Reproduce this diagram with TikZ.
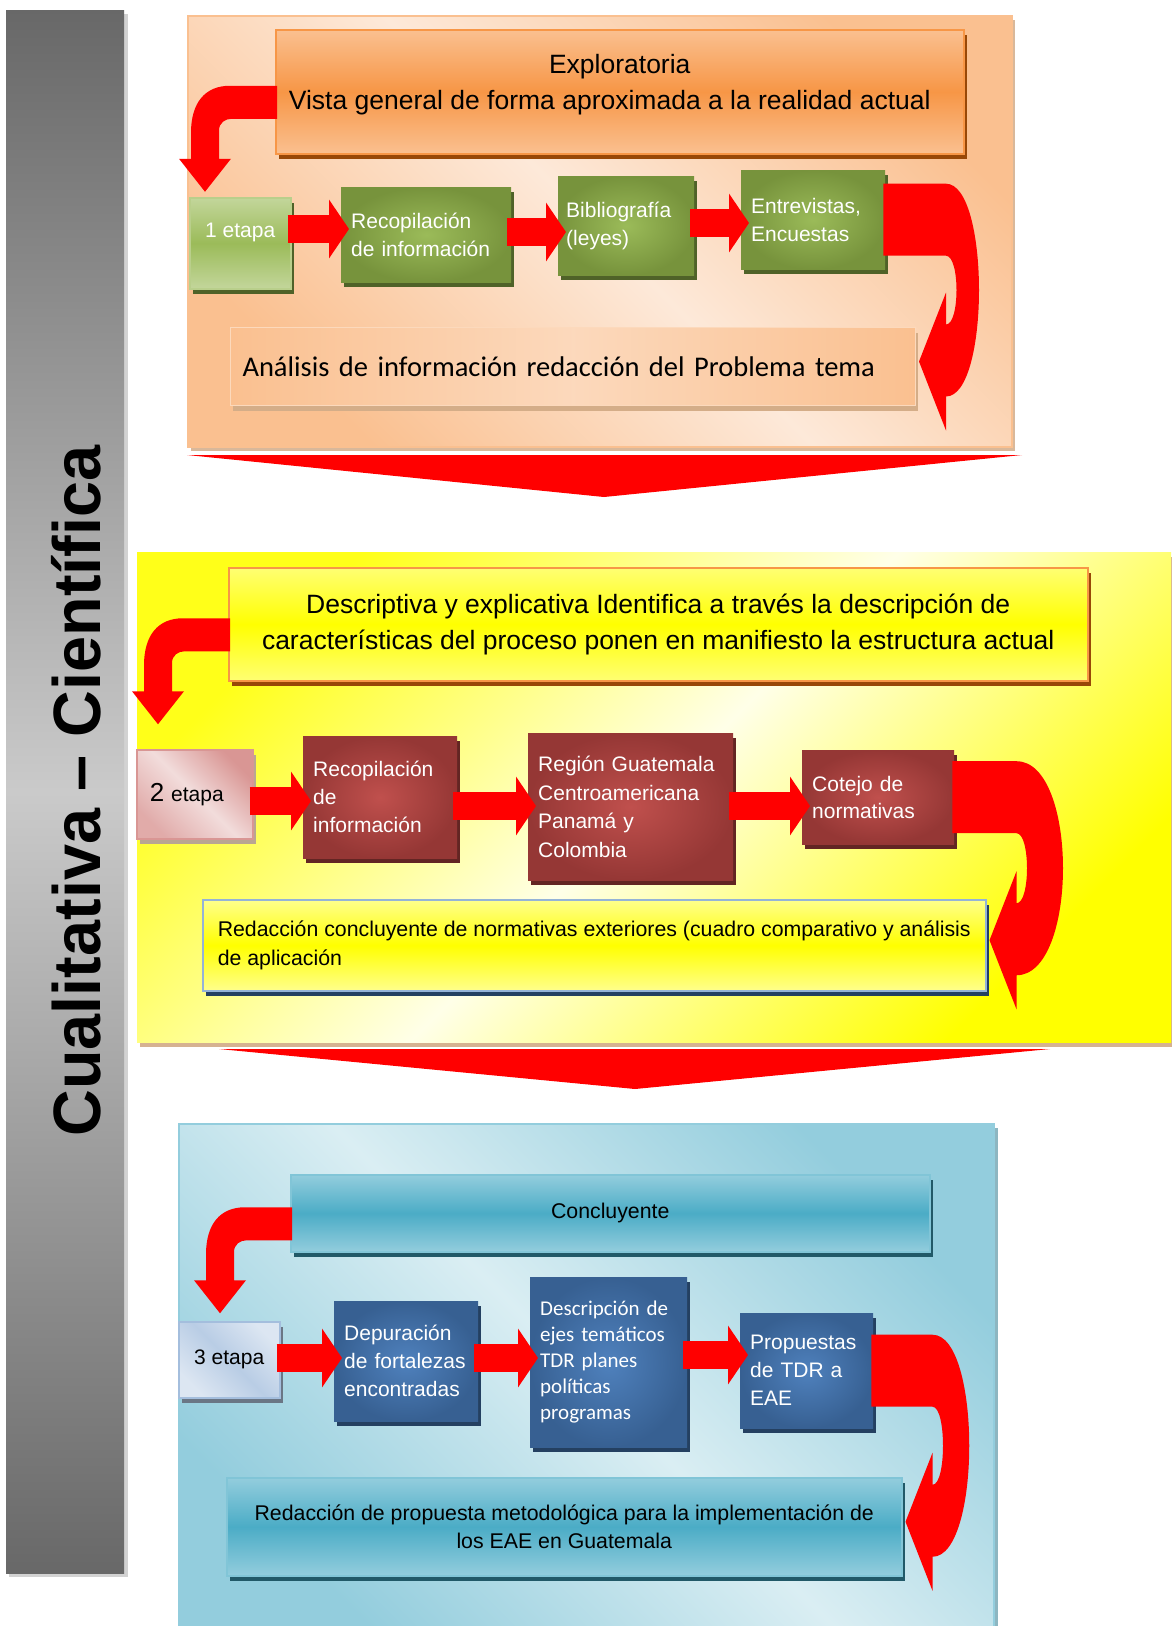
\documentclass[tikz,border=0pt]{standalone}
\usepackage{fontspec}
\setmainfont{Liberation Sans}
\newfontfamily\calibri{Carlito}
\usepackage{graphicx}
\usepackage{tikz}
\usetikzlibrary{positioning, calc, shadows, arrows.meta}

\definecolor{rojo}{RGB}{255,0,0}
\definecolor{naranja}{RGB}{247,150,70}
\definecolor{naranjaclaro}{RGB}{250,192,144}
\definecolor{melocoton}{RGB}{253,233,217}
\definecolor{cafe}{RGB}{152,72,7}
\definecolor{sombranar}{RGB}{217,184,154}
\definecolor{verde}{RGB}{119,147,60}
\definecolor{verdeclaro}{RGB}{155,187,89}
\definecolor{verdepalido}{RGB}{195,214,155}
\definecolor{verdeoscuro}{RGB}{79,98,40}
\definecolor{vino}{RGB}{149,55,53}
\definecolor{vinoclaro}{RGB}{192,80,77}
\definecolor{vinooscuro}{RGB}{99,37,35}
\definecolor{rosa}{RGB}{217,150,148}
\definecolor{rosaclaro}{RGB}{242,220,219}
\definecolor{azul}{RGB}{55,96,146}
\definecolor{azulclaro}{RGB}{79,129,189}
\definecolor{azuloscuro}{RGB}{36,64,97}
\definecolor{celeste}{RGB}{185,205,229}
\definecolor{celesteclaro}{RGB}{220,230,242}
\definecolor{turquesa}{RGB}{75,172,198}
\definecolor{turquesaclaro}{RGB}{147,205,221}
\definecolor{turquesapalido}{RGB}{218,238,243}
\definecolor{turquesaoscuro}{RGB}{33,89,104}
\definecolor{amarillo}{RGB}{255,255,0}
\definecolor{crema}{RGB}{255,255,232}
\definecolor{gris}{RGB}{104,104,104}
\definecolor{grisclaro}{RGB}{202,202,202}

\newcommand{\curva}[1]{%
  \fill[rojo, shift={(#1.west)}] (2,-6) -- (-45,-6) .. controls (-70,-6) and (-84,11) .. (-84,41) -- (-84,67) -- (-96,67) -- (-70,100) -- (-44,67) -- (-56,67) -- (-56,39) .. controls (-56,31) and (-50,27) .. (-43,27) -- (2,27) -- cycle;}

\newcommand{\vuelta}[3]{%
  \fill[rojo] let \p1=(#1.east), \p2=(#2.east) in
    (\x1-2pt,\y1+36pt) -- (\x2+30pt,\y1+36pt)
    .. controls (\x2+#3pt,\y1+36pt) and (\x2+#3pt,\y2-30pt) .. (\x2+30pt,\y2-30pt)
    -- (\x2+30pt,\y2-64pt) -- (\x2+3pt,\y2+5pt) -- (\x2+30pt,\y2+74pt) -- (\x2+30pt,\y2+42pt)
    .. controls (\x2+44pt,\y2+42pt) and (\x2+44pt,\y1-36pt) .. (\x2+30pt,\y1-36pt)
    -- (\x1-2pt,\y1-36pt) -- cycle;}

\begin{document}
\begin{tikzpicture}[x=1pt, y=-1pt,
  sombra/.style={drop shadow={shadow xshift=3pt, shadow yshift=-5pt, opacity=1, fill=#1}},
  panel/.style={anchor=north west, inner sep=0pt},
  caja/.style={anchor=north west, inner xsep=10pt, inner ysep=0pt, align=left, text=white, font=\fontsize{21}{28}\selectfont},
  cverde/.style={caja, inner color=verdeclaro, outer color=verde, sombra=verdeoscuro},
  cvino/.style={caja, inner color=vinoclaro, outer color=vino, sombra=vinooscuro},
  cazul/.style={caja, inner color=azulclaro, outer color=azul, sombra=azuloscuro},
  titulo/.style={anchor=north west, align=center, inner sep=0pt, line width=1.5pt, font=\fontsize{26.5}{36}\selectfont},
  flecha/.style={rojo, line width=28pt, -{Triangle[length=20pt, width=58pt]}, shorten <=-4pt, shorten >=-8pt}]
\useasboundingbox (0,0) rectangle (1171,1626);

\node[panel, top color=naranjaclaro, bottom color=naranjaclaro, middle color=melocoton, shading angle=-45, draw=naranjaclaro, line width=1.5pt, drop shadow={shadow xshift=3pt, shadow yshift=-4pt, opacity=1, fill=sombranar}, minimum width=824pt, minimum height=431pt] (p1) at (187,15) {};
\node[panel, top color=amarillo!90!white, bottom color=amarillo, middle color=crema, shading angle=45, drop shadow={shadow xshift=3pt, shadow yshift=-5pt, opacity=1, fill=sombranar!90!brown}, minimum width=1034pt, minimum height=490pt] (p2) at (137,552) {};
\node[panel, top color=turquesaclaro, bottom color=turquesaclaro, middle color=turquesapalido, shading angle=-45, draw=turquesaclaro, line width=1.5pt, drop shadow={shadow xshift=4pt, shadow yshift=-4pt, opacity=1, fill=turquesaclaro!70!gray}, minimum width=815pt, minimum height=510pt] (p3) at (178,1123) {};

\fill[gray!35] (9,14) rectangle (128,1577);
\shade[top color=gris, bottom color=gris, middle color=grisclaro] (6,10) rectangle (124,1573);
\node[rotate=90, anchor=base, inner sep=0pt, font=\bfseries\fontsize{67}{70}\selectfont] (lema) at (100,791) {\scalebox{0.966}[1]{Cualitativa – Científica}};

\fill[rojo] (187,455) -- (1022,455) -- (604,497) -- cycle;
\fill[rojo] (219,1049) -- (1050,1049) -- (635,1089) -- cycle;

\node[titulo, draw=naranja, top color=naranjaclaro, bottom color=naranjaclaro, middle color=naranja, sombra=cafe, minimum width=688pt, minimum height=124pt] (t1) at (275,29) {Exploratoria\\Vista general de forma aproximada a la realidad actual\hspace*{20pt}\rule[-20pt]{0pt}{1pt}};
\node[titulo, draw=naranja, top color=amarillo!55!white, bottom color=amarillo!55!white, middle color=amarillo, sombra=cafe, minimum width=859pt, minimum height=113pt] (t2) at (228,567) {Descriptiva y explicativa Identifica a través la descripción de\\características del proceso ponen en manifiesto la estructura actual};
\node[titulo, draw=turquesa!70!white, top color=turquesaclaro, bottom color=turquesaclaro, middle color=turquesa, sombra=turquesaoscuro, minimum width=639pt, minimum height=77pt, font=\fontsize{21.3}{28}\selectfont] (t3) at (290,1174) {Concluyente};
\curva{t1}
\curva{t2}
\curva{t3}

\node[anchor=north west, inner xsep=12pt, inner ysep=0pt, text width=661pt, align=left, minimum height=78pt, left color=naranjaclaro, right color=naranjaclaro, middle color=melocoton!60!naranjaclaro, draw=naranjaclaro!60!white, line width=1pt, drop shadow={shadow xshift=2pt, shadow yshift=-5pt, opacity=1, fill=sombranar!80!brown}, font=\calibri\fontsize{28.5}{34}\selectfont] (a1) at (230,327) {Análisis de información redacción del Problema tema};
\node[anchor=north west, inner sep=0pt, align=left, minimum width=783pt, minimum height=91pt, draw=azulclaro!60!white, line width=1.5pt, top color=amarillo!45!white, bottom color=amarillo!45!white, middle color=amarillo, sombra=azuloscuro, font=\fontsize{21.3}{29}\selectfont] (r2c) at (202,899) {Redacción concluyente de normativas exteriores (cuadro comparativo y análisis\\de aplicación};
\node[titulo, draw=turquesa!70!white, top color=turquesaclaro, bottom color=turquesaclaro, middle color=turquesa, sombra=turquesaoscuro, minimum width=675pt, minimum height=98pt, font=\fontsize{21.3}{28}\selectfont] (r3c) at (226,1477) {Redacción de propuesta metodológica para la implementación de\\los EAE en Guatemala};

\node[caja, minimum width=101pt, minimum height=91pt, top color=verdepalido, bottom color=verdepalido, middle color=verdeclaro, draw=verdeclaro!70!white, line width=1.5pt, sombra=verdeoscuro] (s1) at (189,197) {1 etapa\rule[-26pt]{0pt}{1pt}};
\node[cverde, text width=150pt, minimum height=95pt] (r1) at (341,187) {Recopilación\\de información};
\node[cverde, text width=120pt, minimum height=99pt, inner xsep=8pt] (b1) at (558,176) {Bibliografía\\(leyes)};
\node[cverde, text width=124pt, minimum height=99pt] (n1) at (741,170) {Entrevistas,\\Encuestas};

\node[caja, text=black, inner xsep=13pt, text width=90pt, minimum height=89pt, top color=rosa, bottom color=rosa!80!white, middle color=rosaclaro, shading angle=-45, draw=rosa, line width=1.5pt, sombra=brown!45!gray!70] (s2) at (136,749) {{\fontsize{26}{27}\selectfont 2} etapa};
\node[cvino, text width=134pt, minimum height=122pt] (r2) at (303,736) {Recopilación\\de\\información};
\node[cvino, text width=185pt, minimum height=147pt, font=\fontsize{21}{28.5}\selectfont] (g2) at (528,733) {Región Guatemala\\Centroamericana\\Panamá y\\Colombia};
\node[cvino, text width=132pt, minimum height=94pt, font=\fontsize{21}{27}\selectfont] (c2) at (802,750) {Cotejo de\\normativas};

\node[caja, text=black, minimum width=101pt, minimum height=76pt, top color=celesteclaro, bottom color=celesteclaro, middle color=celeste, shading angle=-45, draw=celeste!80!azulclaro, line width=1.5pt, sombra=gray!70!azul] (s3) at (178,1321) {3 etapa};
\node[cazul, text width=124pt, minimum height=120pt] (d3) at (334,1301) {Depuración\\de fortalezas\\encontradas};
\node[cazul, text width=137pt, minimum height=170pt, font=\calibri\fontsize{21}{26}\selectfont] (e3) at (530,1277) {Descripción de\\ejes temáticos\\TDR planes\\políticas\\programas};
\node[cazul, text width=113pt, minimum height=115pt] (p3b) at (740,1313) {Propuestas\\de TDR a\\EAE};

\coordinate (f11) at (0,229);
\coordinate (f12) at (0,232);
\coordinate (f13) at (0,223);
\coordinate (f21) at (0,801);
\coordinate (f22) at (0,806);
\coordinate (f23) at (0,806);
\coordinate (f31) at (0,1358);
\coordinate (f32) at (0,1358);
\coordinate (f33) at (0,1355);

\draw[flecha] (s1.east |- f11) -- (r1.west |- f11);
\draw[flecha] (r1.east |- f12) -- (b1.west |- f12);
\draw[flecha] (b1.east |- f13) -- (n1.west |- f13);
\draw[flecha] (s2.east |- f21) -- (r2.west |- f21);
\draw[flecha] (r2.east |- f22) -- (g2.west |- f22);
\draw[flecha] (g2.east |- f23) -- (c2.west |- f23);
\draw[flecha] (s3.east |- f31) -- (d3.west |- f31);
\draw[flecha] (d3.east |- f32) -- (e3.west |- f32);
\draw[flecha] (e3.east |- f33) -- (p3b.west |- f33);

\vuelta{n1}{a1}{74}
\vuelta{c2}{r2c}{92}
\vuelta{p3b}{r3c}{79}
\end{tikzpicture}
\end{document}
